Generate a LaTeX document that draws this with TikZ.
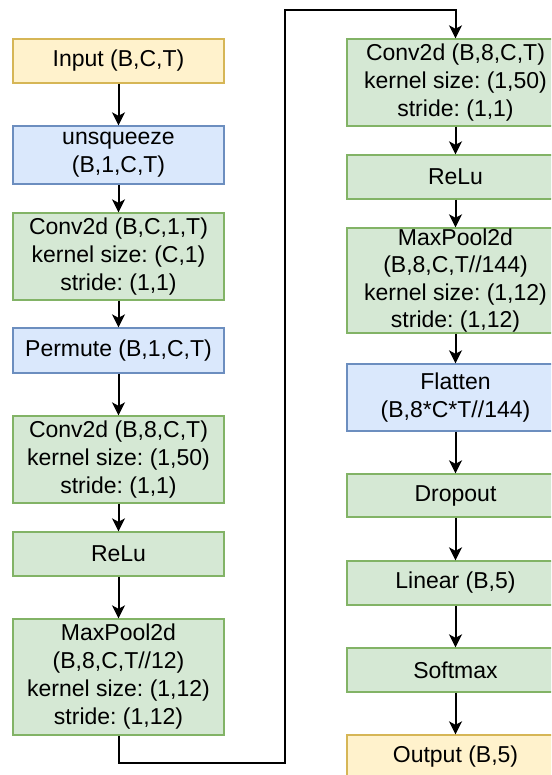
\documentclass[tikz,border=0pt]{standalone}
\usepackage{fontspec}
\setmainfont{Liberation Sans}
\usetikzlibrary{arrows.meta}
\frenchspacing

\definecolor{ioFill}{HTML}{FFF2CC}
\definecolor{ioLine}{HTML}{D6B656}
\definecolor{opFill}{HTML}{DAE8FC}
\definecolor{opLine}{HTML}{6C8EBF}
\definecolor{lyFill}{HTML}{D5E8D4}
\definecolor{lyLine}{HTML}{82B366}

\tikzset{
  box/.style={rectangle, draw, line width=1.3pt, inner sep=0pt, align=center,
    font=\fontsize{23}{28}\selectfont, text=black},
  iobox/.style={box, fill=ioFill, draw=ioLine},
  opbox/.style={box, fill=opFill, draw=opLine},
  lybox/.style={box, fill=lyFill, draw=lyLine},
  leftcol/.style={minimum width=211pt},
  rightcol/.style={minimum width=217pt},
  flow/.style={draw=black, line width=2pt,
    -{Stealth[length=13pt,width=13pt,inset=3.5pt]}},
}

\begin{document}
\begin{tikzpicture}[x=1pt,y=-1pt]
  \useasboundingbox (0,0) rectangle (551,775);
  \clip (0,0) rectangle (551,775);

  % left column
  \node[iobox, leftcol, minimum height=44pt] (in)    at (118.5,61)    {Input (B,C,T)};
  \node[opbox, leftcol, minimum height=58pt] (unsq)  at (118.5,155)   {unsqueeze\\(B,1,C,T)};
  \node[lybox, leftcol, minimum height=87pt] (conva) at (118.5,256.5) {Conv2d (B,C,1,T)\\kernel size: (C,1)\\stride: (1,1)};
  \node[opbox, leftcol, minimum height=45pt] (perm)  at (118.5,350.5) {Permute (B,1,C,T)};
  \node[lybox, leftcol, minimum height=87pt] (convb) at (118.5,459.5) {Conv2d (B,8,C,T)\\kernel size: (1,50)\\stride: (1,1)};
  \node[lybox, leftcol, minimum height=44pt] (relua) at (118.5,554)   {ReLu};
  \node[lybox, leftcol, minimum height=116pt] (poola) at (118.5,677)  {MaxPool2d\\(B,8,C,T//12)\\kernel size: (1,12)\\stride: (1,12)};

  % right column
  \node[lybox, rightcol, minimum height=87pt] (convc) at (455.5,82.5)  {Conv2d (B,8,C,T)\\kernel size: (1,50)\\stride: (1,1)};
  \node[lybox, rightcol, minimum height=44pt] (relub) at (455.5,177)   {ReLu};
  \node[lybox, rightcol, minimum height=105pt, font=\fontsize{23}{27.5}\selectfont] (poolb) at (455.5,280.5) {MaxPool2d\\(B,8,C,T//144)\\kernel size: (1,12)\\stride: (1,12)};
  \node[opbox, rightcol, minimum height=67pt] (flat)  at (455.5,397.5) {Flatten\\(B,8*C*T//144)};
  \node[lybox, rightcol, minimum height=43pt] (drop)  at (455.5,495.5) {Dropout};
  \node[lybox, rightcol, minimum height=44pt] (lin)   at (455.5,583)   {Linear (B,5)};
  \node[lybox, rightcol, minimum height=44pt] (soft)  at (455.5,670)   {Softmax};
  \node[iobox, rightcol, minimum height=44pt] (out)   at (455.5,757)   {Output (B,5)};

  % turning points of the link between the columns
  \coordinate (turnA) at (285,763);
  \coordinate (turnB) at (285,10);

  % connectors
  \draw[flow] (in) -- (unsq);
  \draw[flow] (unsq) -- (conva);
  \draw[flow] (conva) -- (perm);
  \draw[flow] (perm) -- (convb);
  \draw[flow] (convb) -- (relua);
  \draw[flow] (relua) -- (poola);
  \draw[flow] (poola.south) |- (turnA) -- (turnB) -| (convc.north);
  \draw[flow] (convc) -- (relub);
  \draw[flow] (relub) -- (poolb);
  \draw[flow] (poolb) -- (flat);
  \draw[flow] (flat) -- (drop);
  \draw[flow] (drop) -- (lin);
  \draw[flow] (lin) -- (soft);
  \draw[flow] (soft) -- (out);
\end{tikzpicture}
\end{document}
